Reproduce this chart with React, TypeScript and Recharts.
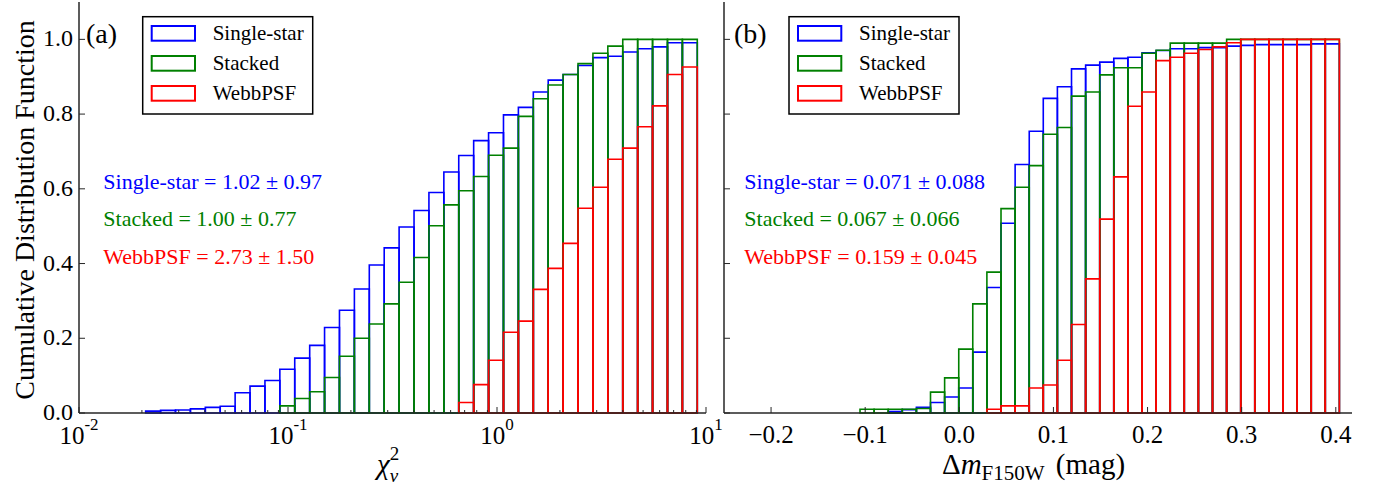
import React from 'react';
import { ComposedChart, XAxis, YAxis, ReferenceArea } from 'recharts';

const SERIES = ['Single-star', 'Stacked', 'WebbPSF'];
const COLORS = ['#0000ff', '#008000', '#ff0000'];
const FONT = '"Liberation Serif", "Times New Roman", serif';
const INK = '#262626';

// (a) reduced chi^2, logarithmic bins
const chiEdges = [
  0.02084, 0.02456, 0.02895, 0.03412, 0.04021, 0.04739, 0.05585, 0.06582, 0.07757, 0.09141,
  0.1077, 0.127, 0.1496, 0.1763, 0.2078, 0.2449, 0.2886, 0.3401, 0.4009, 0.4724,
  0.5568, 0.6561, 0.7733, 0.9113, 1.074, 1.2657, 1.4918, 1.7579, 2.0716, 2.4415,
  2.8774, 3.3905, 3.9967, 4.7098, 5.5499, 6.542, 7.709, 9.0847,
];
const chiSingle = [
  0.005, 0.007, 0.008, 0.011, 0.015, 0.018, 0.054, 0.072, 0.087, 0.117,
  0.147, 0.181, 0.229, 0.275, 0.332, 0.396, 0.442, 0.498, 0.542, 0.59,
  0.645, 0.689, 0.729, 0.75, 0.798, 0.818, 0.859, 0.891, 0.906, 0.93,
  0.951, 0.955, 0.966, 0.975, 0.98, 0.991, 0.991,
];
const chiStacked = [
  0, 0, 0, 0, 0, 0, 0, 0, 0, 0.019,
  0.039, 0.057, 0.095, 0.152, 0.2, 0.238, 0.292, 0.35, 0.416, 0.501,
  0.557, 0.595, 0.633, 0.69, 0.709, 0.794, 0.841, 0.878, 0.906, 0.935,
  0.963, 0.982, 1.0, 1.0, 1.0, 1.0, 1.0,
];
const chiWebb = [
  0, 0, 0, 0, 0, 0, 0, 0, 0, 0,
  0, 0, 0, 0, 0, 0, 0, 0, 0, 0,
  0, 0.028, 0.076, 0.141, 0.216, 0.246, 0.331, 0.387, 0.454, 0.548,
  0.604, 0.679, 0.709, 0.766, 0.822, 0.906, 0.926,
];

// (b) magnitude offset, linear bins
const magEdges = [
  -0.1055, -0.0905, -0.0755, -0.0606, -0.0456, -0.0306, -0.0156, -0.0006, 0.0143, 0.0293,
  0.0443, 0.0593, 0.0743, 0.0892, 0.1042, 0.1192, 0.1342, 0.1492, 0.1641, 0.1791,
  0.1941, 0.2091, 0.2241, 0.239, 0.254, 0.269, 0.284, 0.299, 0.3139, 0.3289,
  0.3439, 0.3589, 0.3739, 0.3888, 0.4038,
];
const magSingle = [
  0, 0, 0.004, 0.009, 0.015, 0.028, 0.043, 0.067, 0.163, 0.336,
  0.508, 0.665, 0.754, 0.842, 0.873, 0.921, 0.931, 0.939, 0.949, 0.952,
  0.964, 0.97, 0.975, 0.975, 0.978, 0.978, 0.982, 0.984, 0.986, 0.986,
  0.986, 0.986, 0.988, 0.988,
];
const magStacked = [
  0.01, 0.01, 0.01, 0.01, 0.012, 0.056, 0.094, 0.171, 0.292, 0.377,
  0.547, 0.604, 0.662, 0.746, 0.764, 0.848, 0.859, 0.905, 0.924, 0.924,
  0.963, 0.971, 0.99, 0.99, 0.99, 0.99, 1.0, 1.0, 1.0, 1.0,
  1.0, 1.0, 1.0, 1.0,
];
const magWebb = [
  0, 0, 0, 0, 0, 0, 0, 0, 0, 0.01,
  0.019, 0.019, 0.067, 0.075, 0.141, 0.237, 0.359, 0.519, 0.632, 0.821,
  0.859, 0.943, 0.952, 0.963, 0.973, 0.98, 0.991, 1.0, 1.0, 1.0,
  1.0, 1.0, 1.0, 1.0,
];

const chiTicks = [
  0.01, 0.02, 0.03, 0.04, 0.05, 0.06, 0.07, 0.08, 0.09,
  0.1, 0.2, 0.3, 0.4, 0.5, 0.6, 0.7, 0.8, 0.9,
  1, 2, 3, 4, 5, 6, 7, 8, 9, 10,
];
const magTicks = [-0.2, -0.1, 0, 0.1, 0.2, 0.3, 0.4];
const yTicks = [0, 0.2, 0.4, 0.6, 0.8, 1.0];

const chiStats = ['1.02 \u00b1 0.97', '1.00 \u00b1 0.77', '2.73 \u00b1 1.50'];
const magStats = ['0.071 \u00b1 0.088', '0.067 \u00b1 0.066', '0.159 \u00b1 0.045'];

const buildBins = (edges: number[], a: number[], b: number[], c: number[]) =>
  a.map((v, i) => ({ lo: edges[i], hi: edges[i + 1], values: [v, b[i], c[i]] }));

const chiBins = buildBins(chiEdges, chiSingle, chiStacked, chiWebb);
const magBins = buildBins(magEdges, magSingle, magStacked, magWebb);

const isMajorLog = (v: number) => {
  const l = Math.log10(v);
  return Math.abs(l - Math.round(l)) < 1e-6;
};

function ChiBottomTick({ x, y, payload }: any) {
  const v = payload.value;
  const major = isMajorLog(v);
  return (
    <g>
      <line x1={x} x2={x} y1={y} y2={y - (major ? 6 : 3)} stroke={INK} strokeWidth={1} />
      {major && (
        <text x={x} y={y + 31} textAnchor="middle" fontFamily={FONT} fontSize={25} fill="#000">
          10
          <tspan dy={-14} fontSize={17}>{String(Math.round(Math.log10(v)))}</tspan>
        </text>
      )}
    </g>
  );
}

function ChiTopTick({ x, y, payload }: any) {
  const len = isMajorLog(payload.value) ? 6 : 3;
  return <line x1={x} x2={x} y1={y} y2={y + len} stroke={INK} strokeWidth={1} />;
}

function MagBottomTick({ x, y, payload }: any) {
  const v = payload.value;
  const label = v < 0 ? '\u2212' + Math.abs(v).toFixed(1) : v.toFixed(1);
  return (
    <g>
      <line x1={x} x2={x} y1={y} y2={y - 6} stroke={INK} strokeWidth={1} />
      <text x={x} y={y + 30} textAnchor="middle" fontFamily={FONT} fontSize={25} fill="#000">
        {label}
      </text>
    </g>
  );
}

function MagTopTick({ x, y }: any) {
  return <line x1={x} x2={x} y1={y} y2={y + 6} stroke={INK} strokeWidth={1} />;
}

function LeftTick({ x, y, payload, showLabel }: any) {
  return (
    <g>
      <line x1={x} x2={x + 6} y1={y} y2={y} stroke={INK} strokeWidth={1} />
      {showLabel && (
        <text x={x - 6} y={y - 1} textAnchor="end" dominantBaseline="central" fontFamily={FONT} fontSize={24} fill="#000">
          {payload.value.toFixed(1)}
        </text>
      )}
    </g>
  );
}

function RightTick({ x, y }: any) {
  return <line x1={x - 6} x2={x} y1={y} y2={y} stroke={INK} strokeWidth={1} />;
}

const axisLine = { stroke: INK, strokeWidth: 1.5 };

function HistPanel({ bins, log, width, height, yWidth, marginRight }: any) {
  const xProps = log
    ? { scale: 'log' as const, domain: [0.01, 10], ticks: chiTicks }
    : { domain: [-0.25, 0.4172], ticks: magTicks };
  return (
    <ComposedChart
      width={width}
      height={height}
      data={bins}
      margin={{ top: 2, right: marginRight, bottom: 0, left: 0 }}
    >
      <XAxis
        type="number"
        dataKey="lo"
        {...xProps}
        allowDataOverflow
        interval={0}
        height={74}
        tickSize={0}
        tickMargin={0}
        tickLine={false}
        axisLine={axisLine}
        tick={log ? <ChiBottomTick /> : <MagBottomTick />}
      />
      <XAxis
        xAxisId="top"
        orientation="top"
        type="number"
        dataKey="lo"
        {...xProps}
        allowDataOverflow
        interval={0}
        height={0}
        tickSize={0}
        tickMargin={0}
        tickLine={false}
        axisLine={axisLine}
        tick={log ? <ChiTopTick /> : <MagTopTick />}
      />
      <YAxis
        type="number"
        domain={[0, 1.1]}
        ticks={yTicks}
        allowDataOverflow
        interval={0}
        width={yWidth}
        tickSize={0}
        tickMargin={0}
        tickLine={false}
        axisLine={axisLine}
        tick={<LeftTick showLabel={log} />}
      />
      <YAxis
        yAxisId="right"
        orientation="right"
        type="number"
        domain={[0, 1.1]}
        ticks={yTicks}
        allowDataOverflow
        interval={0}
        width={0}
        tickSize={0}
        tickMargin={0}
        tickLine={false}
        axisLine={axisLine}
        tick={<RightTick />}
      />
      {SERIES.map((name, s) =>
        bins
          .filter((b: any) => b.values[s] > 0)
          .map((b: any, i: number) => (
            <ReferenceArea
              key={`${name}-${i}`}
              x1={b.lo}
              x2={b.hi}
              y1={0}
              y2={b.values[s]}
              fill="none"
              stroke={COLORS[s]}
              strokeWidth={1.6}
              ifOverflow="visible"
            />
          ))
      )}
    </ComposedChart>
  );
}

function LegendBox({ left }: { left: number }) {
  return (
    <g>
      <rect x={left} y={16.7} width={170} height={97.3} fill="#fff" stroke="#000" strokeWidth={1.5} />
      {SERIES.map((name, i) => (
        <g key={name}>
          <rect x={left + 9} y={26 + i * 30} width={43.3} height={14.7} fill="none" stroke={COLORS[i]} strokeWidth={2} />
          <text x={left + 70} y={33.3 + i * 30} dominantBaseline="central" fontFamily={FONT} fontSize={21} fill="#000">
            {name}
          </text>
        </g>
      ))}
    </g>
  );
}

function Stats({ left, stats }: { left: number; stats: string[] }) {
  return (
    <g>
      {SERIES.map((name, i) => (
        <text
          key={name}
          x={left}
          y={181.7 + i * 37.2}
          dominantBaseline="central"
          fontFamily={FONT}
          fontSize={22}
          fill={COLORS[i]}
          style={{ whiteSpace: 'pre' }}
        >
          {`${name} = ${stats[i]}`}
        </text>
      ))}
    </g>
  );
}

export default function App() {
  return (
    <div style={{ position: 'absolute', left: 0, top: 0, width: 1385, height: 487, background: '#fff' }}>
      <div style={{ position: 'absolute', left: 720, top: 0 }}>
        <HistPanel bins={magBins} log={false} width={665} height={487} yWidth={4} marginRight={33} />
      </div>
      <div style={{ position: 'absolute', left: 0, top: 0 }}>
        <HistPanel bins={chiBins} log width={740} height={487} yWidth={79} marginRight={34} />
      </div>
      <svg
        width={1385}
        height={487}
        style={{ position: 'absolute', left: 0, top: 0, pointerEvents: 'none' }}
      >
        <text
          transform="translate(24,210) rotate(-90)"
          textAnchor="middle"
          dominantBaseline="central"
          fontFamily={FONT}
          fontSize={28}
          fill="#000"
        >
          Cumulative Distribution Function
        </text>
        <text x={86} y={43} fontFamily={FONT} fontSize={28} fill="#000">(a)</text>
        <text x={734} y={43} fontFamily={FONT} fontSize={28} fill="#000">(b)</text>
        <LegendBox left={142.7} />
        <LegendBox left={789} />
        <Stats left={103.3} stats={chiStats} />
        <Stats left={744.3} stats={magStats} />
        <text x={377} y={474} fontFamily={FONT} fontSize={29} fill="#000">
          <tspan fontStyle="italic">{'\u03c7'}</tspan>
          <tspan dy={-14} fontSize={19}>2</tspan>
          <tspan dx={-9.5} dy={22} fontSize={19} fontStyle="italic">{'\u03bd'}</tspan>
        </text>
        <text x={942} y={474} fontFamily={FONT} fontSize={29} fill="#000">
          {'\u0394'}
          <tspan fontStyle="italic">m</tspan>
          <tspan dy={6} fontSize={21}>F150W</tspan>
          <tspan dy={-6} dx={4}>{' (mag)'}</tspan>
        </text>
      </svg>
    </div>
  );
}
